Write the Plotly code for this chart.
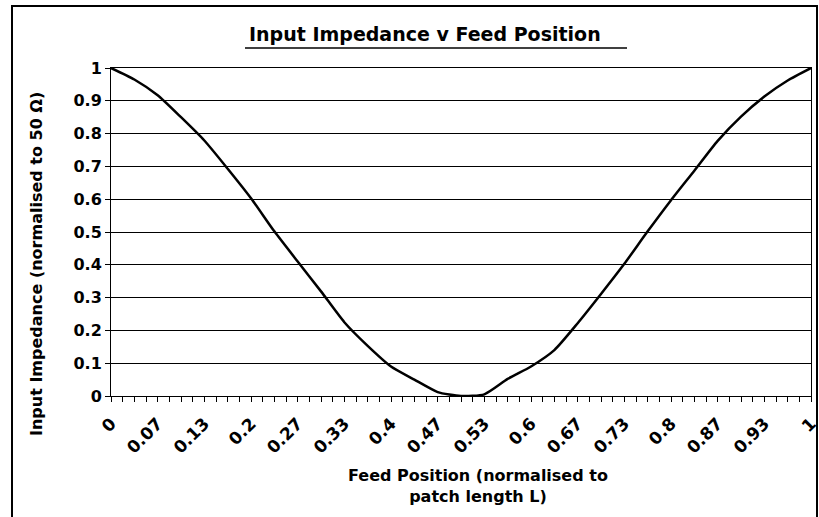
import plotly.graph_objects as go

# feed position (normalised), 31 samples
feed_pos = [k / 30 for k in range(31)]
# input impedance (normalised to 50 ohm)
impedance = [1.0, 0.965, 0.917, 0.85, 0.779, 0.693, 0.603, 0.502, 0.41, 0.319, 0.225,
             0.153, 0.09, 0.05, 0.012, 0.0, 0.005, 0.052, 0.09, 0.14, 0.222,
             0.311, 0.403, 0.502, 0.597, 0.687, 0.778, 0.852, 0.913, 0.962, 1.0]

x_tick_vals = [k / 15 for k in range(16)]
x_tick_text = ["0", "0.07", "0.13", "0.2", "0.27", "0.33", "0.4", "0.47",
               "0.53", "0.6", "0.67", "0.73", "0.8", "0.87", "0.93", "1"]
y_tick_vals = [0, 0.1, 0.2, 0.3, 0.4, 0.5, 0.6, 0.7, 0.8, 0.9, 1]
y_tick_text = ["0", "0.1", "0.2", "0.3", "0.4", "0.5", "0.6", "0.7", "0.8", "0.9", "1"]

W, H = 819, 517
L, R, T, B = 111, 8, 68, 121
pw, ph = W - L - R, H - T - B

def px(xp):
    return (xp - L) / pw

def py(yp):
    return (H - B - yp) / ph

FONT = "DejaVu Sans, Arial, sans-serif"

fig = go.Figure()
fig.add_trace(go.Scatter(x=feed_pos, y=impedance, mode="lines",
                         line=dict(color="black", width=2.5, shape="spline", smoothing=0.6),
                         showlegend=False, hoverinfo="x+y"))

fig.update_layout(
    width=W, height=H,
    margin=dict(l=L, r=R, t=T, b=B, autoexpand=False),
    paper_bgcolor="white", plot_bgcolor="white",
    font=dict(family=FONT, color="black", size=15, weight="bold"),
    xaxis=dict(range=[0, 1], tickmode="array", tickvals=x_tick_vals, ticktext=x_tick_text,
               tickangle=-45, ticks="outside", ticklen=5, tickcolor="black",
               ticklabeloverflow="allow", ticklabelstandoff=5,
               showgrid=False, zeroline=False, showline=True, linecolor="black",
               linewidth=1, mirror=True, automargin=False,
               tickfont=dict(family=FONT, size=17, weight="bold"),
               minor=dict(ticks="outside", dtick=1 / 60, tick0=0, ticklen=5,
                          tickcolor="black", showgrid=False)),
    yaxis=dict(range=[0, 1], tickmode="array", tickvals=y_tick_vals, ticktext=y_tick_text,
               ticks="outside", ticklen=5, tickcolor="black",
               showgrid=True, gridcolor="black", gridwidth=1, zeroline=False,
               showline=True, linecolor="black", linewidth=1, mirror=True, automargin=False,
               tickfont=dict(family=FONT, size=16, weight="bold")),
)

# chart title with underline
fig.add_annotation(x=px(425), y=py(34), xref="paper", yref="paper", showarrow=False,
                   xanchor="center", yanchor="middle",
                   text="Input Impedance v Feed Position",
                   font=dict(family=FONT, size=19, weight="bold"))
fig.add_shape(type="line", xref="paper", yref="paper",
              x0=px(245), x1=px(627), y0=py(48), y1=py(48),
              line=dict(color="black", width=1.5))

# axis titles
fig.add_annotation(x=px(36), y=py(264), xref="paper", yref="paper", showarrow=False,
                   xanchor="center", yanchor="middle",
                   textangle=-90, text="Input Impedance (normalised to 50 Ω)",
                   font=dict(family=FONT, size=16, weight="bold"))
fig.add_annotation(x=px(478), y=py(486), xref="paper", yref="paper", showarrow=False,
                   xanchor="center", yanchor="middle",
                   text="Feed Position (normalised to<br>patch length L)",
                   font=dict(family=FONT, size=16, weight="bold"))

# outer chart frame
fig.add_shape(type="rect", xref="paper", yref="paper",
              x0=px(12), x1=px(817), y0=py(6), y1=py(530),
              line=dict(color="black", width=2))

fig.write_html("out.html", config={"displayModeBar": False},
               post_script="document.body.style.margin='0';")
